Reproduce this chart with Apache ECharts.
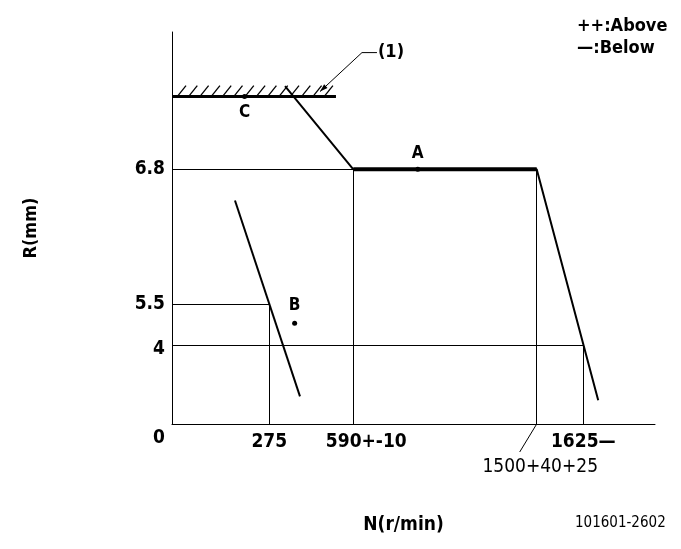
<!DOCTYPE html>
<html><head><meta charset="utf-8">
<script src="https://cdn.jsdelivr.net/npm/echarts@6/dist/echarts.min.js"></script>
<style>html,body{margin:0;padding:0;background:#fff}#c{width:681px;height:549px}</style>
</head><body><div id="c"></div>
<script>
// ---------- data (real units: N in r/min, R in mm) ----------
const xTickValues = [275, 590, 1500, 1625];
const xTickLabels = ['275', '590+-10', '1500+40+25', '1625—'];
const yTickValues = [0, 4, 5.5, 6.8];
const yTickLabels = ['0', '4', '5.5', '6.8'];

// guide lines: horizontal from N=0 and vertical from R=0 to these points
const guideN = [275, 590, 1500, 1625];
const guideR = [5.5, 6.8, 6.8, 4];

// governor characteristic
const curveN = [334, 590, 1500, 1665];
const curveR = [7.6, 6.8, 6.8, 1.2];

// B line
const bLineN = [178, 390];
const bLineR = [6.5, 1.4];

// full-load stop (1)
const stopN = [0, 525];
const stopR = 7.5;
const stopArrowN = 465;

// measuring points
const pointNames = ['A', 'B', 'C'];
const pointN = [910, 370, 205];
const pointR = [6.8, 4.8, 7.5];

// ---------- non-linear (not-to-scale) diagram axes ----------
const X_KNOTS = [0, 275, 590, 1500, 1625];
const X_UNITS = [0, 97.3, 181.3, 364.7, 411.3];
const Y_KNOTS = [0, 4, 5.5, 6.8];
const Y_UNITS = [0, 79, 119.7, 254.7];
function piecewise(v, ks, us) {
  let i = 0;
  if (v >= ks[ks.length - 1]) i = ks.length - 2;
  else if (v > ks[0]) { while (v > ks[i + 1]) i++; }
  return us[i] + (v - ks[i]) * (us[i + 1] - us[i]) / (ks[i + 1] - ks[i]);
}
const sx = v => piecewise(v, X_KNOTS, X_UNITS);
const sy = v => piecewise(v, Y_KNOTS, Y_UNITS);
const P = (n, r) => [sx(n), sy(r)];

const FONT = '"Liberation Sans Narrow", "DejaVu Sans Condensed", "Liberation Sans", sans-serif';
const BLACK = '#000';

const xLabelMap = {}; xTickValues.forEach((v, i) => xLabelMap[sx(v).toFixed(3)] = i);
const yLabelMap = {}; yTickValues.forEach((v, i) => yLabelMap[sy(v).toFixed(3)] = i);
const xRich = ['n', 'r590', 'r1500', 'n'];
const yRich = ['z', 'f', 'n', 'n'];
const baseTxt = { fontFamily: FONT, fontSize: 19, fontWeight: 'bold', color: BLACK };

const guideData = [];
guideN.forEach((n, i) => {
  guideData.push({ coords: [P(0, guideR[i]), P(n, guideR[i])] });
  guideData.push({ coords: [P(n, 0), P(n, guideR[i])] });
});

const chart = echarts.init(document.getElementById('c'), null, { renderer: 'canvas' });
chart.setOption({
  animation: false,
  backgroundColor: '#fff',
  grid: { left: 172, top: 32, width: 483, height: 392 },
  xAxis: {
    type: 'value', min: 0, max: 483,
    splitLine: { show: false }, axisTick: { show: false },
    axisLine: { lineStyle: { color: BLACK, width: 1 } },
    name: 'N(r/min)', nameLocation: 'middle', nameGap: 92,
    nameTextStyle: { fontFamily: FONT, fontSize: 19, fontWeight: 'bold', color: BLACK, padding: [0, 20, 0, 0] },
    axisLabel: {
      customValues: xTickValues.map(sx), margin: 9,
      formatter: v => { const i = xLabelMap[v.toFixed(3)]; return i === undefined ? '' : '{' + xRich[i] + '|' + xTickLabels[i] + '}'; },
      rich: {
        n: baseTxt,
        r590: Object.assign({}, baseTxt, { padding: [0, 0, 0, 26] }),
        r1500: Object.assign({}, baseTxt, { fontWeight: 'normal', padding: [25, 0, 0, 7] })
      }
    }
  },
  yAxis: {
    type: 'value', min: 0, max: 392,
    splitLine: { show: false }, axisTick: { show: false },
    axisLine: { lineStyle: { color: BLACK, width: 1 } },
    name: 'R(mm)', nameLocation: 'middle', nameGap: 132, nameRotate: 90,
    nameTextStyle: { fontFamily: FONT, fontSize: 18, fontWeight: 'bold', color: BLACK },
    axisLabel: {
      customValues: yTickValues.map(sy), margin: 7,
      formatter: v => { const i = yLabelMap[v.toFixed(3)]; return i === undefined ? '' : '{' + yRich[i] + '|' + yTickLabels[i] + '}'; },
      rich: {
        n: baseTxt,
        z: Object.assign({}, baseTxt, { padding: [28, 0, 0, 0] }),
        f: Object.assign({}, baseTxt, { padding: [8, 0, 0, 0] })
      }
    }
  },
  series: [
    { type: 'lines', coordinateSystem: 'cartesian2d', silent: true, z: 1,
      lineStyle: { color: BLACK, width: 1, opacity: 1 }, data: guideData },
    { type: 'line', symbol: 'none', silent: true, z: 3,
      lineStyle: { color: BLACK, width: 2 },
      data: curveN.map((n, i) => P(n, curveR[i])) },
    { type: 'line', symbol: 'none', silent: true, z: 4,
      lineStyle: { color: BLACK, width: 4 },
      data: curveN.map((n, i) => P(n, curveR[i])).slice(1, 3) },
    { type: 'line', symbol: 'none', silent: true, z: 3,
      lineStyle: { color: BLACK, width: 2 },
      data: bLineN.map((n, i) => P(n, bLineR[i])) },
    { type: 'custom', silent: true, z: 5, clip: false,
      data: [[sx(stopN[0]), sy(stopR), sx(stopN[1])]],
      renderItem: (params, api) => {
        const a = api.coord([api.value(0), api.value(1)]);
        const b = api.coord([api.value(2), api.value(1)]);
        const ch = [{ type: 'line', shape: { x1: a[0], y1: a[1], x2: b[0], y2: b[1] }, style: { stroke: BLACK, lineWidth: 3 } }];
        for (let x = a[0] + 6; x + 8 <= b[0]; x += 11.3) {
          ch.push({ type: 'line', shape: { x1: x, y1: a[1] - 1, x2: x + 8, y2: a[1] - 11 }, style: { stroke: BLACK, lineWidth: 1.3 } });
        }
        return { type: 'group', children: ch };
      } },
    { type: 'custom', silent: true, z: 6, clip: false,
      data: [[sx(stopArrowN), sy(stopR)]],
      renderItem: (params, api) => {
        const p = api.coord([api.value(0), api.value(1)]);
        const tip = [p[0], p[1] - 5];
        const knee = [tip[0] + 42, tip[1] - 39];
        const end = [knee[0] + 15, knee[1]];
        const len = Math.hypot(knee[0] - tip[0], knee[1] - tip[1]);
        const ux = (knee[0] - tip[0]) / len, uy = (knee[1] - tip[1]) / len;
        const bx = tip[0] + ux * 8, by = tip[1] + uy * 8;
        return { type: 'group', children: [
          { type: 'polyline', shape: { points: [tip, knee, end] }, style: { stroke: BLACK, lineWidth: 1, fill: null } },
          { type: 'polygon', shape: { points: [tip, [bx - uy * 2.5, by + ux * 2.5], [bx + uy * 2.5, by - ux * 2.5]] }, style: { fill: BLACK } },
          { type: 'text', x: end[0] + 1, y: end[1], style: { text: '(1)', fill: BLACK, font: 'bold 18px ' + FONT, textAlign: 'left', textVerticalAlign: 'middle' } }
        ] };
      } },
    { type: 'custom', silent: true, z: 6, clip: false,
      data: [[sx(1500), sy(0)]],
      renderItem: (params, api) => {
        const p = api.coord([api.value(0), api.value(1)]);
        return { type: 'line', shape: { x1: p[0], y1: p[1], x2: p[0] - 17, y2: p[1] + 28 }, style: { stroke: BLACK, lineWidth: 1 } };
      } },
    { type: 'scatter', silent: true, z: 7, symbol: 'circle', symbolSize: 5,
      itemStyle: { color: BLACK, opacity: 1 },
      emphasis: { disabled: true },
      data: pointNames.map((nm, i) => ({
        name: nm, value: P(pointN[i], pointR[i]),
        label: { show: true, formatter: nm, position: nm === 'C' ? 'bottom' : 'top', distance: nm === 'B' ? 7 : 5,
          fontFamily: FONT, fontSize: 17, fontWeight: 'bold', color: BLACK, opacity: 1, textBorderWidth: 0 }
      })) }
  ],
  graphic: [
    { type: 'text', left: 577, top: 17, style: { text: '++:Above', font: 'bold 18px ' + FONT, fill: BLACK } },
    { type: 'text', left: 577, top: 39, style: { text: '—:Below', font: 'bold 18px ' + FONT, fill: BLACK } },
    { type: 'text', left: 575, top: 516, style: { text: '101601-2602', font: '15px ' + FONT, fill: BLACK } }
  ]
});
</script>
</body></html>
